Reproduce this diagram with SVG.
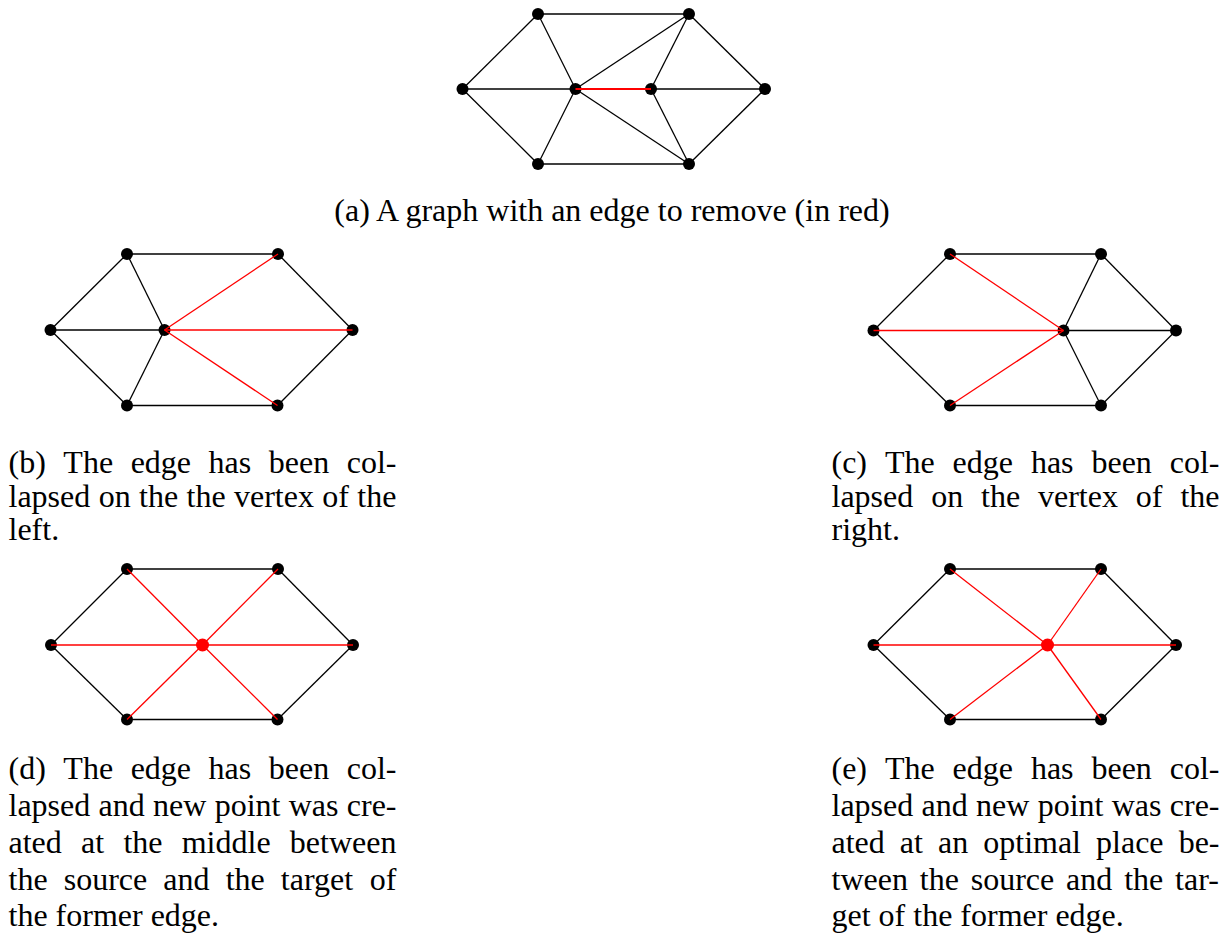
<svg xmlns="http://www.w3.org/2000/svg" width="1231" height="934" viewBox="0 0 1231 934">
<style>
.e{stroke:#000;stroke-width:1.3;fill:none}
.r{stroke:#ff0000;stroke-width:1.3;fill:none}
.r2{stroke:#ff0000;stroke-width:2;fill:none}
.n{fill:#000}
.nr{fill:#ff0000}
text{font-family:"Liberation Serif","Times New Roman",serif;font-size:32px;fill:#000}
</style>
<rect width="1231" height="934" fill="#fff"/>

<!-- (a) -->
<g id="fig-a">
<g id="a-tl"><circle class="n" cx="538" cy="14" r="6"/></g>
<g id="a-tr"><circle class="n" cx="689" cy="14" r="6"/></g>
<g id="a-l"><circle class="n" cx="462.5" cy="89" r="6"/></g>
<g id="a-c1"><circle class="n" cx="575.5" cy="89" r="6"/></g>
<g id="a-c2"><circle class="n" cx="651" cy="89" r="6"/></g>
<g id="a-r"><circle class="n" cx="765" cy="89" r="6"/></g>
<g id="a-bl"><circle class="n" cx="538" cy="164" r="6"/></g>
<g id="a-br"><circle class="n" cx="689" cy="164" r="6"/></g>
<g id="a-edges">
<line class="e" x1="538" y1="14" x2="689" y2="14"/>
<line class="e" x1="538" y1="14" x2="462.5" y2="89"/>
<line class="e" x1="538" y1="14" x2="575.5" y2="89"/>
<line class="e" x1="689" y1="14" x2="575.5" y2="89"/>
<line class="e" x1="689" y1="14" x2="651" y2="89"/>
<line class="e" x1="689" y1="14" x2="765" y2="89"/>
<line class="e" x1="462.5" y1="89" x2="575.5" y2="89"/>
<line class="e" x1="462.5" y1="89" x2="538" y2="164"/>
<line class="e" x1="575.5" y1="89" x2="538" y2="164"/>
<line class="e" x1="575.5" y1="89" x2="689" y2="164"/>
<line class="e" x1="651" y1="89" x2="765" y2="89"/>
<line class="e" x1="651" y1="89" x2="689" y2="164"/>
<line class="e" x1="765" y1="89" x2="689" y2="164"/>
<line class="e" x1="538" y1="164" x2="689" y2="164"/>
<line class="r2" x1="575.5" y1="89" x2="651" y2="89"/>
</g>
<text id="a-caption" x="612" y="221" text-anchor="middle">(a) A graph with an edge to remove (in red)</text>
</g>

<!-- (b) -->
<g id="fig-b">
<g id="b-tl"><circle class="n" cx="127" cy="254" r="6"/></g>
<g id="b-tr"><circle class="n" cx="278" cy="254" r="6"/></g>
<g id="b-l"><circle class="n" cx="50.5" cy="330" r="6"/></g>
<g id="b-c"><circle class="n" cx="164.5" cy="330" r="6"/></g>
<g id="b-r"><circle class="n" cx="352.5" cy="330" r="6"/></g>
<g id="b-bl"><circle class="n" cx="127" cy="405.5" r="6"/></g>
<g id="b-br"><circle class="n" cx="277.5" cy="405.5" r="6"/></g>
<g id="b-edges">
<line class="e" x1="127" y1="254" x2="278" y2="254"/>
<line class="e" x1="127" y1="254" x2="50.5" y2="330"/>
<line class="e" x1="127" y1="254" x2="164.5" y2="330"/>
<line class="e" x1="50.5" y1="330" x2="164.5" y2="330"/>
<line class="e" x1="50.5" y1="330" x2="127" y2="405.5"/>
<line class="e" x1="164.5" y1="330" x2="127" y2="405.5"/>
<line class="e" x1="127" y1="405.5" x2="277.5" y2="405.5"/>
<line class="e" x1="278" y1="254" x2="352.5" y2="330"/>
<line class="e" x1="352.5" y1="330" x2="277.5" y2="405.5"/>
<line class="r" x1="164.5" y1="330" x2="278" y2="254"/>
<line class="r" x1="164.5" y1="330" x2="352.5" y2="330"/>
<line class="r" x1="164.5" y1="330" x2="277.5" y2="405.5"/>
</g>
<text id="b-caption">
<tspan x="8.5" y="473">(b)</tspan><tspan x="63.34" y="473">The</tspan><tspan x="130.63" y="473">edge</tspan><tspan x="208.58" y="473">has</tspan><tspan x="268.77" y="473">been</tspan><tspan x="346.72" y="473">col-</tspan>
<tspan x="8.5" y="506.5">lapsed</tspan><tspan x="98.64" y="506.5">on</tspan><tspan x="139.02" y="506.5">the</tspan><tspan x="186.5" y="506.5">the</tspan><tspan x="233.98" y="506.5">vertex</tspan><tspan x="322.33" y="506.5">of</tspan><tspan x="357.37" y="506.5">the</tspan>
<tspan x="8.5" y="540">left.</tspan>
</text>
</g>

<!-- (c) -->
<g id="fig-c">
<g id="c-tl"><circle class="n" cx="950" cy="254" r="6"/></g>
<g id="c-tr"><circle class="n" cx="1101" cy="254" r="6"/></g>
<g id="c-l"><circle class="n" cx="873.5" cy="330.5" r="6"/></g>
<g id="c-c"><circle class="n" cx="1063.5" cy="330.5" r="6"/></g>
<g id="c-r"><circle class="n" cx="1176" cy="330.5" r="6"/></g>
<g id="c-bl"><circle class="n" cx="950" cy="405.5" r="6"/></g>
<g id="c-br"><circle class="n" cx="1101" cy="405.5" r="6"/></g>
<g id="c-edges">
<line class="e" x1="950" y1="254" x2="1101" y2="254"/>
<line class="e" x1="950" y1="254" x2="873.5" y2="330.5"/>
<line class="e" x1="873.5" y1="330.5" x2="950" y2="405.5"/>
<line class="e" x1="950" y1="405.5" x2="1101" y2="405.5"/>
<line class="e" x1="1101" y1="254" x2="1063.5" y2="330.5"/>
<line class="e" x1="1101" y1="254" x2="1176" y2="330.5"/>
<line class="e" x1="1063.5" y1="330.5" x2="1176" y2="330.5"/>
<line class="e" x1="1063.5" y1="330.5" x2="1101" y2="405.5"/>
<line class="e" x1="1176" y1="330.5" x2="1101" y2="405.5"/>
<line class="r" x1="950" y1="254" x2="1063.5" y2="330.5"/>
<line class="r" x1="873.5" y1="330.5" x2="1063.5" y2="330.5"/>
<line class="r" x1="950" y1="405.5" x2="1063.5" y2="330.5"/>
</g>
<text id="c-caption">
<tspan x="831.5" y="473">(c)</tspan><tspan x="884.92" y="473">The</tspan><tspan x="952.58" y="473">edge</tspan><tspan x="1030.9" y="473">has</tspan><tspan x="1091.46" y="473">been</tspan><tspan x="1169.78" y="473">col-</tspan>
<tspan x="831.5" y="506.5">lapsed</tspan><tspan x="931.14" y="506.5">on</tspan><tspan x="981.02" y="506.5">the</tspan><tspan x="1038" y="506.5">vertex</tspan><tspan x="1135.85" y="506.5">of</tspan><tspan x="1180.39" y="506.5">the</tspan>
<tspan x="831.5" y="540">right.</tspan>
</text>
</g>

<!-- (d) -->
<g id="fig-d">
<g id="d-tl"><circle class="n" cx="127" cy="569" r="6"/></g>
<g id="d-tr"><circle class="n" cx="278" cy="569" r="6"/></g>
<g id="d-l"><circle class="n" cx="51" cy="645" r="6"/></g>
<g id="d-c"><circle class="nr" cx="202.5" cy="645" r="6.5"/></g>
<g id="d-r"><circle class="n" cx="353" cy="645" r="6"/></g>
<g id="d-bl"><circle class="n" cx="127" cy="719.5" r="6"/></g>
<g id="d-br"><circle class="n" cx="277.5" cy="719.5" r="6"/></g>
<g id="d-edges">
<line class="e" x1="127" y1="569" x2="278" y2="569"/>
<line class="e" x1="127" y1="569" x2="51" y2="645"/>
<line class="e" x1="51" y1="645" x2="127" y2="719.5"/>
<line class="e" x1="127" y1="719.5" x2="277.5" y2="719.5"/>
<line class="e" x1="278" y1="569" x2="353" y2="645"/>
<line class="e" x1="353" y1="645" x2="277.5" y2="719.5"/>
<line class="r" x1="202.5" y1="645" x2="127" y2="569"/>
<line class="r" x1="202.5" y1="645" x2="278" y2="569"/>
<line class="r" x1="202.5" y1="645" x2="51" y2="645"/>
<line class="r" x1="202.5" y1="645" x2="353" y2="645"/>
<line class="r" x1="202.5" y1="645" x2="127" y2="719.5"/>
<line class="r" x1="202.5" y1="645" x2="277.5" y2="719.5"/>
</g>
<text id="d-caption">
<tspan x="8.5" y="779">(d)</tspan><tspan x="63.34" y="779">The</tspan><tspan x="130.63" y="779">edge</tspan><tspan x="208.58" y="779">has</tspan><tspan x="268.77" y="779">been</tspan><tspan x="346.72" y="779">col-</tspan>
<tspan x="8.5" y="816">lapsed</tspan><tspan x="98.55" y="816">and</tspan><tspan x="153.05" y="816">new</tspan><tspan x="214.65" y="816">point</tspan><tspan x="288.73" y="816">was</tspan><tspan x="346.78" y="816">cre-</tspan>
<tspan x="8.5" y="853">ated</tspan><tspan x="81.05" y="853">at</tspan><tspan x="123.39" y="853">the</tspan><tspan x="181.73" y="853">middle</tspan><tspan x="289.87" y="853">between</tspan>
<tspan x="8.5" y="890">the</tspan><tspan x="63.71" y="890">source</tspan><tspan x="163.34" y="890">and</tspan><tspan x="225.66" y="890">the</tspan><tspan x="280.87" y="890">target</tspan><tspan x="369.84" y="890">of</tspan>
<tspan x="8.5" y="926">the former edge.</tspan>
</text>
</g>

<!-- (e) -->
<g id="fig-e">
<g id="e-tl"><circle class="n" cx="950" cy="569" r="6"/></g>
<g id="e-tr"><circle class="n" cx="1101" cy="569" r="6"/></g>
<g id="e-l"><circle class="n" cx="873.5" cy="645" r="6"/></g>
<g id="e-c"><circle class="nr" cx="1047.5" cy="645" r="6.5"/></g>
<g id="e-r"><circle class="n" cx="1176" cy="645" r="6"/></g>
<g id="e-bl"><circle class="n" cx="950" cy="719.5" r="6"/></g>
<g id="e-br"><circle class="n" cx="1101" cy="719.5" r="6"/></g>
<g id="e-edges">
<line class="e" x1="950" y1="569" x2="1101" y2="569"/>
<line class="e" x1="950" y1="569" x2="873.5" y2="645"/>
<line class="e" x1="873.5" y1="645" x2="950" y2="719.5"/>
<line class="e" x1="950" y1="719.5" x2="1101" y2="719.5"/>
<line class="e" x1="1101" y1="569" x2="1176" y2="645"/>
<line class="e" x1="1176" y1="645" x2="1101" y2="719.5"/>
<line class="r" x1="1047.5" y1="645" x2="950" y2="569"/>
<line class="r" x1="1047.5" y1="645" x2="1101" y2="569"/>
<line class="r" x1="1047.5" y1="645" x2="873.5" y2="645"/>
<line class="r" x1="1047.5" y1="645" x2="1176" y2="645"/>
<line class="r" x1="1047.5" y1="645" x2="950" y2="719.5"/>
<line class="r" x1="1047.5" y1="645" x2="1101" y2="719.5"/>
</g>
<text id="e-caption">
<tspan x="831.5" y="779">(e)</tspan><tspan x="884.92" y="779">The</tspan><tspan x="952.58" y="779">edge</tspan><tspan x="1030.9" y="779">has</tspan><tspan x="1091.46" y="779">been</tspan><tspan x="1169.78" y="779">col-</tspan>
<tspan x="831.5" y="816">lapsed</tspan><tspan x="921.55" y="816">and</tspan><tspan x="976.05" y="816">new</tspan><tspan x="1037.65" y="816">point</tspan><tspan x="1111.73" y="816">was</tspan><tspan x="1169.78" y="816">cre-</tspan>
<tspan x="831.5" y="853">ated</tspan><tspan x="899.85" y="853">at</tspan><tspan x="937.99" y="853">an</tspan><tspan x="983.24" y="853">optimal</tspan><tspan x="1096.07" y="853">place</tspan><tspan x="1178.63" y="853">be-</tspan>
<tspan x="831.5" y="890">tween</tspan><tspan x="919.77" y="890">the</tspan><tspan x="970.72" y="890">source</tspan><tspan x="1066.09" y="890">and</tspan><tspan x="1124.15" y="890">the</tspan><tspan x="1175.1" y="890">tar-</tspan>
<tspan x="831.5" y="926">get of the former edge.</tspan>
</text>
</g>
</svg>
